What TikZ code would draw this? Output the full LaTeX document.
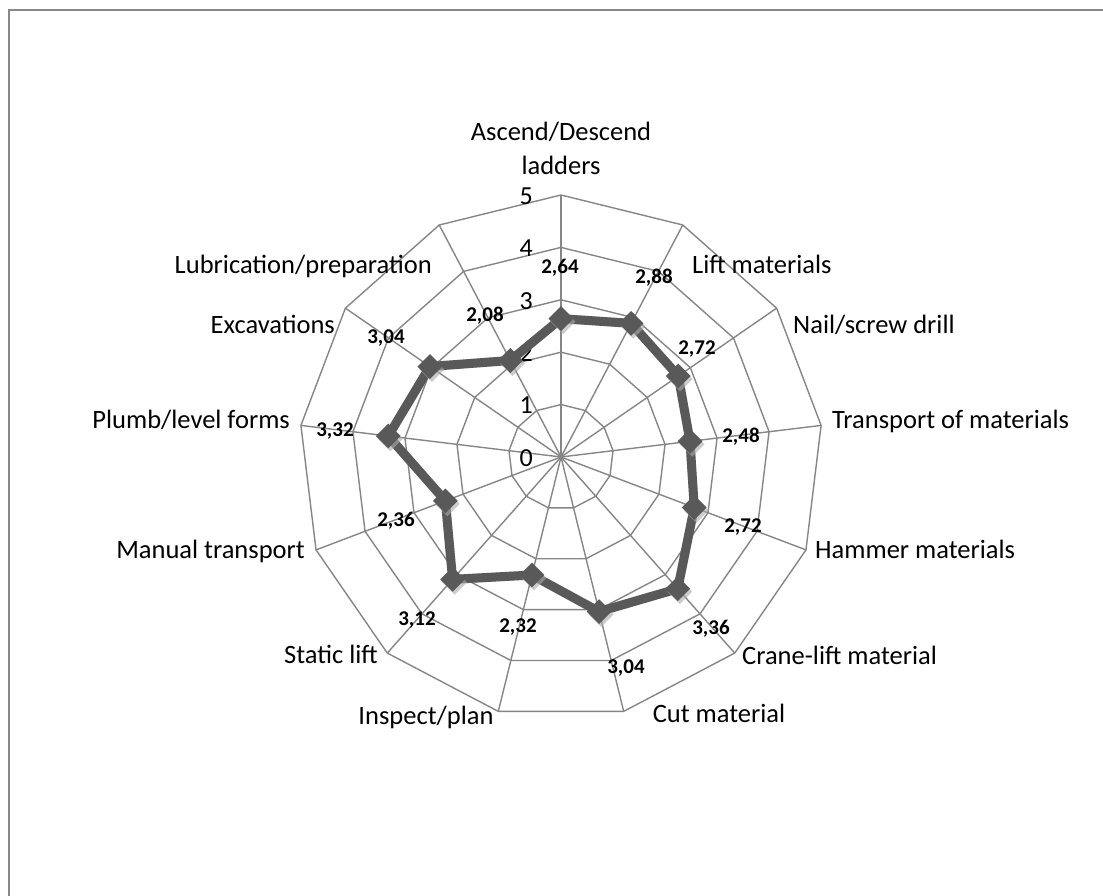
\documentclass[tikz,border=0pt]{standalone}
\usepackage{fontspec}
\setmainfont{Carlito}
\usetikzlibrary{shapes.geometric}
\definecolor{gridc}{RGB}{134,134,134}
\definecolor{datac}{RGB}{89,89,89}
\definecolor{shadc}{RGB}{170,170,170}
\definecolor{framec}{RGB}{136,136,136}
\begin{document}
\begin{tikzpicture}[x=1pt,y=1pt,
  gridline/.style={draw=gridc, line width=1.4pt},
  cat/.style={font=\fontsize{26.5}{34}\selectfont, inner sep=0pt},
  ticklab/.style={font=\fontsize{26}{30}\selectfont, inner sep=0pt, anchor=east},
  val/.style={font=\bfseries\fontsize{21}{24}\selectfont, inner sep=0pt},
  series/.style={draw=datac, line width=9pt, line join=round},
  diam/.style={diamond, fill=datac, minimum size=25pt, inner sep=0pt},
  diamshadow/.style={diamond, fill=shadc, opacity=0.6, minimum size=25pt, inner sep=0pt}]
\useasboundingbox (0,0) rectangle (1103,896);
\fill[white] (0,0) rectangle (1103,896);
\draw[framec, line width=2pt] (8.5,0) -- (8.5,885.5) -- (1103,885.5);
\begin{scope}[shift={(561,439)}]
  % rings
  \foreach \k in {1,...,5}{
    \draw[gridline] (90:\k*52.4) \foreach \i in {1,...,12}{ -- ({90-\i*360/13}:\k*52.4)} -- cycle;
  }
  % spokes
  \foreach \i in {0,...,12}{
    \draw[gridline] (0,0) -- ({90-\i*360/13}:262);
  }
  % tick labels
  \foreach \k in {0,...,5}{
    \node[ticklab] (t\k) at (-28,\k*52.4-1) {\k};
  }
  % data points
  \foreach \v [count=\i from 0] in {2.64,2.88,2.72,2.48,2.72,3.36,3.04,2.32,3.12,2.36,3.32,3.04,2.08}{
    \coordinate (p\i) at ({90-\i*360/13}:\v*52.4);
  }
  \draw[draw=shadc, opacity=0.5, line width=9pt, line join=round, shift={(2,-3)}]
    (p0) -- (p1) -- (p2) -- (p3) -- (p4) -- (p5) -- (p6) -- (p7) -- (p8) -- (p9) -- (p10) -- (p11) -- (p12) -- cycle;
  \draw[series] (p0) -- (p1) -- (p2) -- (p3) -- (p4) -- (p5) -- (p6) -- (p7) -- (p8) -- (p9) -- (p10) -- (p11) -- (p12) -- cycle;
  \foreach \i in {0,...,12}{
    \node[diamshadow, xshift=2pt, yshift=-3pt] (s\i) at (p\i) {};
    \node[diam] (m\i) at (p\i) {};
  }
\end{scope}
% category labels
\node[cat, anchor=south, align=center] (c0) at (561,721) {Ascend/Descend\\ladders};
\node[cat, anchor=mid west] (c1) at (692,625) {Lift materials};
\node[cat, anchor=mid west] (c2) at (793,565) {Nail/screw drill};
\node[cat, anchor=mid west] (c3) at (832,470) {Transport of materials};
\node[cat, anchor=mid west] (c4) at (815,340) {Hammer materials};
\node[cat, anchor=mid west] (c5) at (742,234) {Crane-lift material};
\node[cat, anchor=mid] (c6) at (719,176) {Cut material};
\node[cat, anchor=mid] (c7) at (426,174) {Inspect/plan};
\node[cat, anchor=mid east] (c8) at (378,235) {Static lift};
\node[cat, anchor=mid east] (c9) at (305,340) {Manual transport};
\node[cat, anchor=mid east] (c10) at (290,470) {Plumb/level forms};
\node[cat, anchor=mid east] (c11) at (335,565) {Excavations};
\node[cat, anchor=mid east] (c12) at (432,625) {Lubrication/preparation};
% value labels
\node[val] (v0) at (560,628) {2,64};
\node[val] (v1) at (654,618) {2,88};
\node[val] (v2) at (697,547) {2,72};
\node[val] (v3) at (741,459) {2,48};
\node[val] (v4) at (743,369) {2,72};
\node[val] (v5) at (711,267) {3,36};
\node[val] (v6) at (626,228) {3,04};
\node[val] (v7) at (518,269) {2,32};
\node[val] (v8) at (417,276) {3,12};
\node[val] (v9) at (396,375) {2,36};
\node[val] (v10) at (335,465) {3,32};
\node[val] (v11) at (386,558) {3,04};
\node[val] (v12) at (485,580) {2,08};
\end{tikzpicture}
\end{document}
